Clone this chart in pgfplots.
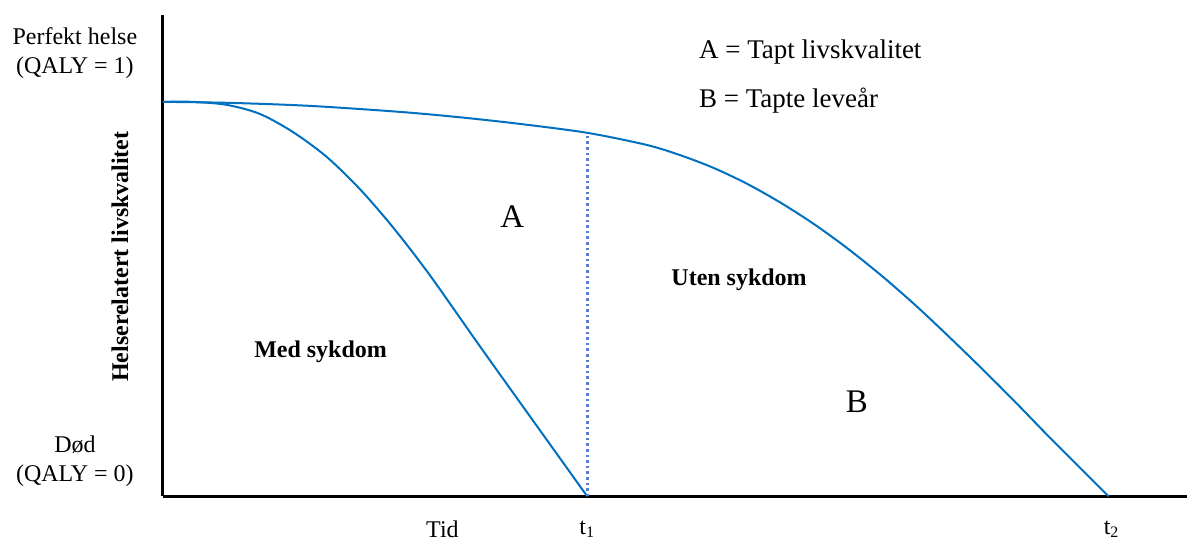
\documentclass[border=0pt]{standalone}
\usepackage{fontspec}
\setmainfont{Liberation Serif}
\usepackage{pgfplots}
\pgfplotsset{compat=1.18}
\definecolor{curve}{HTML}{0070C0}
\definecolor{dotc}{HTML}{5B7BD5}
\newcommand{\fs}{\fontsize{12}{14.5}\selectfont}
\begin{document}
\begin{tikzpicture}
\begin{axis}[
  scale only axis,
  width=512.5pt, height=241pt,
  xmin=0, xmax=1025, ymin=0, ymax=482,
  axis x line*=bottom, axis y line*=left,
  axis line style={line width=1.5pt, black, -},
  xtick=\empty, ytick=\empty,
  clip=false,
]
\path (axis cs:-163,-40) rectangle (axis cs:1025,497);
\addplot[curve, line width=1pt, smooth, tension=0.5] coordinates {
(0,395)(30,395)(64,392)(97,383)(130,365)(164,340)(197,308)(230,270)(267,222)(317,151)(367,81)(425,0)};
\addplot[curve, line width=1pt, smooth, tension=0.5] coordinates {
(0,395)(67,394)(147,391)(237,385)(297,379.6)(357,373)(425,364)(484,352)(517,342)(550,329.5)(584,313.5)(617,295)(650,274)(684,249.5)(720,220.7)(754,191)(787,160)(820,128)(854,94)(887,60)(920,27)(947,0)};
\addplot[dotc, line width=1.3pt, dash pattern=on 1.3pt off 1.5pt] coordinates {(425,0)(425,364)};
\node[align=center, font=\fs] at (axis cs:-88,444) {Perfekt helse\\(QALY = 1)};
\node[align=center, font=\fs] at (axis cs:-88,35) {Død\\(QALY = 0)};
\node[rotate=90, font=\fs\bfseries] at (axis cs:-43,240) {Helserelatert livskvalitet};
\node[font=\fs] at (axis cs:280,-33) {Tid};
\node[font=\fs] at (axis cs:425,-33) {t\textsubscript{1}};
\node[font=\fs] at (axis cs:950,-33) {t\textsubscript{2}};
\node[font=\fontsize{16.5}{18}\selectfont] at (axis cs:350,280) {A};
\node[font=\fontsize{16.5}{18}\selectfont] at (axis cs:695,95) {B};
\node[font=\fs\bfseries] at (axis cs:577,217) {Uten sykdom};
\node[font=\fs\bfseries] at (axis cs:158,145) {Med sykdom};
\node[anchor=west, font=\fontsize{13.5}{16}\selectfont] at (axis cs:530,445) {A = Tapt livskvalitet};
\node[anchor=west, font=\fontsize{13.5}{16}\selectfont] at (axis cs:530,396) {B = Tapte leveår};
\end{axis}
\end{tikzpicture}
\end{document}
